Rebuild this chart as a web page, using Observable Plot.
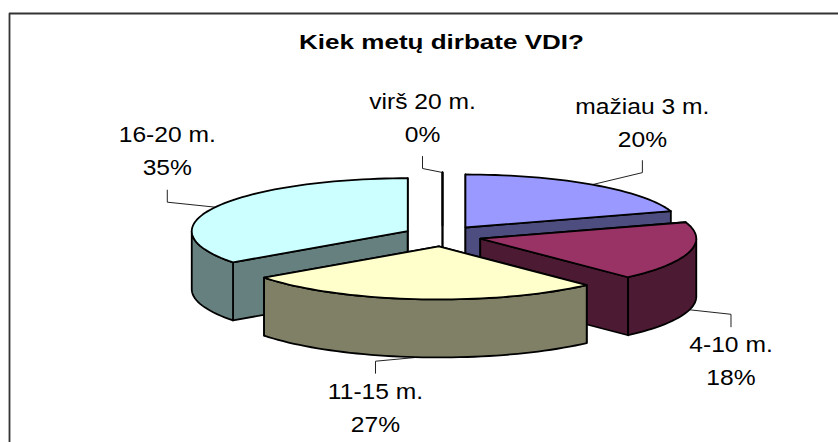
<!DOCTYPE html>
<html>
<head>
<meta charset="utf-8">
<script src="https://cdn.jsdelivr.net/npm/d3@7"></script>
<script src="https://cdn.jsdelivr.net/npm/@observablehq/plot@0.6"></script>
<style>html,body{margin:0;padding:0;background:#fff}svg{display:block}</style>
</head>
<body>
<div id="chart"></div>
<script>
// Data, clockwise from 12 o'clock
const categories = ["mažiau 3 m.", "4-10 m.", "11-15 m.", "16-20 m.", "virš 20 m."];
const shares = [20, 18, 27, 35, 0];
const title = "Kiek metų dirbate VDI?";

// Colours
const topColors = ["#9999FF", "#993366", "#FFFFCC", "#CCFFFF", "#FFFFFF"];
const sideColors = ["#4D4D80", "#4D1A33", "#808066", "#668080", "#808080"];

// Pie geometry in the plot's coordinate space
const center = {x: 442, y: 235.5}, rx = 216, ry = 53, depth = 58, explodeX = 39, explodeY = 10.5;
// Leader lines and labels, relative to each slice's rim anchor
const elbowDx = [50, 41.5, -43, -48, -20];
const elbowDy = [-12, 4.5, 4, -5, -4];
const stubDy = [-12, 12.5, 12, -12, -12];
const labelBaselineDy = [-14, 58, 59, -15, -15];
const drawOrder = [0, 3, 4, 1, 2];

const rad = d => d * Math.PI / 180;
const total = d3.sum(shares);
let run = 0;
const slices = categories.map((name, i) => {
  const start = run * 360 / total; run += shares[i];
  const end = run * 360 / total, mid = shares[i] === 0 ? 0 : (start + end) / 2;
  const apex = {
    x: center.x + explodeX * Math.sin(rad(mid)),
    y: center.y - explodeY * Math.cos(rad(mid))
  };
  return {i, name, share: shares[i], start, end, mid, apex};
});
const rimPoint = (s, a, dz = 0) => ({
  x: s.apex.x + rx * Math.sin(rad(a)),
  y: s.apex.y - ry * Math.cos(rad(a)) + dz
});
const arc = (s, a0, a1, dz = 0) => {
  const n = Math.max(1, Math.ceil(Math.abs(a1 - a0) / 2));
  return d3.range(n + 1).map(k => rimPoint(s, a0 + (a1 - a0) * k / n, dz));
};
const down = (p, dz) => ({x: p.x, y: p.y + dz});

function faces(s) {
  const out = [];
  for (const a of [s.start, s.end]) {
    const p = rimPoint(s, a);
    out.push({fill: sideColors[s.i], points: [s.apex, p, down(p, depth), down(s.apex, depth)]});
  }
  const a0 = Math.max(s.start, 90), a1 = Math.min(s.end, 270);
  if (a1 > a0) out.push({fill: sideColors[s.i], points: [...arc(s, a0, a1), ...arc(s, a1, a0, depth)]});
  out.push({fill: topColors[s.i], points: [s.apex, ...arc(s, s.start, s.end)]});
  return out;
}

const leaders = slices.map(s => {
  const c = Math.cos(rad(s.mid));
  const rim = rimPoint(s, s.mid, c < 0 ? depth : 0);
  const elbow = {x: rim.x + elbowDx[s.i], y: rim.y + elbowDy[s.i]};
  const end = {x: elbow.x, y: elbow.y + stubDy[s.i]};
  return {s, points: [rim, elbow, end], label: {
    x: elbow.x, y: end.y + labelBaselineDy[s.i], text: `${s.name}\n${s.share}%`
  }};
});

const stroke = {stroke: "#000", strokeWidth: 1.8, strokeLinejoin: "round"};
const marks = [
  Plot.line([{x: 9, y: 442}, {x: 9, y: 13}, {x: 838, y: 13}], {x: "x", y: "y", stroke: "#333", strokeWidth: 1.8}),
  ...leaders.map(l => Plot.line(l.points, {x: "x", y: "y", stroke: "#222", strokeWidth: 1})),
  ...drawOrder.flatMap(i => faces(slices[i]).map(f =>
    Plot.line(f.points, {x: "x", y: "y", fill: f.fill, curve: "linear-closed", ...stroke}))),
  Plot.text(leaders.map(l => l.label), {
    x: "x", y: "y", text: "text", fontSize: 22, lineHeight: 1.49, lineAnchor: "bottom",
    fontFamily: "Liberation Sans", fill: "#000", textAnchor: "middle"
  }),
  Plot.text([{x: 441, y: 48, text: title}], {
    x: "x", y: "y", text: "text", fontSize: 21, fontWeight: "bold", lineAnchor: "bottom",
    fontFamily: "Liberation Sans", fill: "#000", textAnchor: "middle"
  })
];

const chart = Plot.plot({
  width: 838, height: 442, margin: 0,
  x: {domain: [0, 838], range: [0, 838], axis: null},
  y: {domain: [0, 442], range: [0, 442], axis: null},
  style: {background: "#fff"},
  marks
});
// The reference's text is horizontally stretched
chart.querySelectorAll("text").forEach(t => {
  const tr = t.getAttribute("transform") || "";
  const k = t.textContent === title ? 1.24 : 1.12;
  t.setAttribute("transform", `${tr} scale(${k},1)`);
});
document.getElementById("chart").append(chart);
</script>
</body>
</html>
